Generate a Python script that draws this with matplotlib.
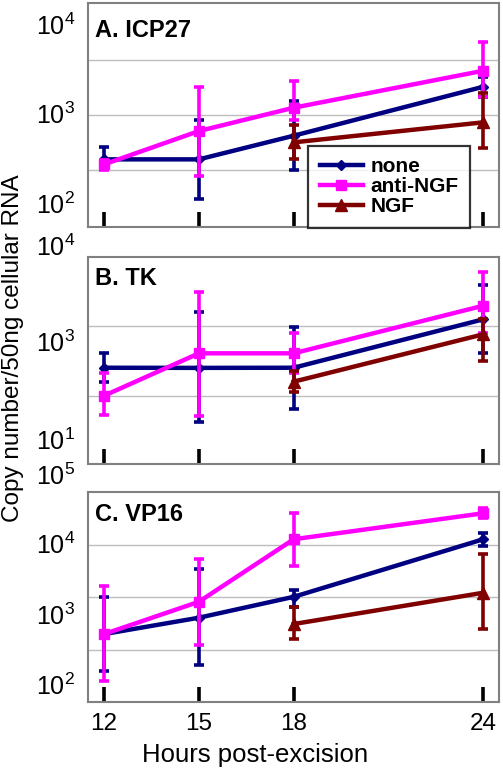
import numpy as np
import matplotlib
matplotlib.use("Agg")
import matplotlib.pyplot as plt
from matplotlib.ticker import FixedLocator, NullFormatter
import matplotlib.transforms as mtransforms

plt.rcParams['font.family'] = ['Liberation Sans', 'DejaVu Sans']
plt.rcParams['mathtext.fontset'] = 'custom'
plt.rcParams['mathtext.rm'] = 'Liberation Sans'

# horas
hours = [12, 15, 18, 24]
hours_ngf = [18, 24]

# A. ICP27
icp27_none = [306, 306, 562, 1980]
icp27_none_lo = [253, 110, 232, 1520]
icp27_none_hi = [424, 841, 1360, 2570]
icp27_anti = [269, 634, 1155, 2990]
icp27_anti_lo = [232, 199, 841, 1530]
icp27_anti_hi = [301, 1950, 2300, 6210]
icp27_ngf = [474, 793]
icp27_ngf_lo = [306, 413]
icp27_ngf_hi = [740, 1670]

# B. TK
tk_none = [285, 283, 285, 2770]
tk_none_lo = [148, 22.5, 40.4, 561]
tk_none_hi = [561, 3960, 1960, 13900]
tk_anti = [76.6, 561, 561, 5250]
tk_anti_lo = [30.9, 29.4, 222, 1460]
tk_anti_hi = [219, 10100, 1440, 25900]
tk_ngf = [148, 1370]
tk_ngf_lo = [90, 391]
tk_ngf_hi = [250, 2800]

# C. VP16
vp16_none = [518, 884, 1750, 11500]
vp16_none_lo = [156, 188, 1270, 9200]
vp16_none_hi = [1750, 4300, 2180, 14000]
vp16_anti = [518, 1490, 11500, 26900]
vp16_anti_lo = [111, 361, 4790, 22800]
vp16_anti_hi = [2490, 5970, 27400, 31600]
vp16_ngf = [719, 2000]
vp16_ngf_lo = [436, 616]
vp16_ngf_hi = [1270, 7100]

titles = ['A. ICP27', 'B. TK', 'C. VP16']
ylims = [(54.1, 16940), (3.09, 52480), (56.1, 54460)]
grid_levels = [[232, 957, 3945], [76.6, 2023], [307, 1754, 9530]]
ytick_vals = [[1e2, 1e3, 1e4], [1e1, 1e3], [1e2, 1e3, 1e4]]
ytick_text = [['2', '3', '4'], ['1', '3'], ['2', '3', '4']]
extra_vals = [None, 8.0e4, 0.9e5]
extra_text = [None, '4', '5']
title_y = [0.932, 0.948, 0.945]

series = [
    [(icp27_none, icp27_none_lo, icp27_none_hi),
     (icp27_anti, icp27_anti_lo, icp27_anti_hi),
     (icp27_ngf, icp27_ngf_lo, icp27_ngf_hi)],
    [(tk_none, tk_none_lo, tk_none_hi),
     (tk_anti, tk_anti_lo, tk_anti_hi),
     (tk_ngf, tk_ngf_lo, tk_ngf_hi)],
    [(vp16_none, vp16_none_lo, vp16_none_hi),
     (vp16_anti, vp16_anti_lo, vp16_anti_hi),
     (vp16_ngf, vp16_ngf_lo, vp16_ngf_hi)],
]
labels = ['none', 'anti-NGF', 'NGF']
colors = ['#000080', '#ff00ff', '#800000']
markers = ['D', 's', '^']
msizes = [5, 7, 8]

fig = plt.figure(figsize=(5.03, 7.73), dpi=100)
positions = [[0.1756, 0.7067, 0.8165, 0.289],
             [0.1756, 0.3997, 0.8165, 0.2682],
             [0.1756, 0.0918, 0.8165, 0.2721]]

for i in range(3):
    ax = fig.add_axes(positions[i])
    ax.set_yscale('log')
    handles = []
    for j in range(3):
        mean, lo, hi = series[i][j]
        x = hours if j < 2 else hours_ngf
        mean = np.array(mean)
        err = [mean - np.array(lo), np.array(hi) - mean]
        cont = ax.errorbar(x, mean, yerr=err, color=colors[j], lw=3.2, marker=markers[j],
                           ms=msizes[j], elinewidth=2.6, capsize=3.5, capthick=2.6,
                           label=labels[j], zorder=3 + j)
        handles.append(cont[0])
    ax.set_xlim(11.5, 24.5)
    ax.set_ylim(*ylims[i])

    # etiquetas del eje y y lineas de la rejilla
    ax.yaxis.set_major_locator(FixedLocator(ytick_vals[i]))
    ax.set_yticklabels([r'$\mathregular{10^{%s}}$' % t for t in ytick_text[i]])
    ax.yaxis.set_minor_locator(FixedLocator(grid_levels[i]))
    ax.yaxis.set_minor_formatter(NullFormatter())
    ax.grid(True, which='minor', axis='y', color='#bdbdbd', lw=1)
    ax.tick_params(axis='y', which='both', length=0, pad=9.5, labelsize=18)
    if extra_vals[i] is not None:
        trans = mtransforms.blended_transform_factory(ax.transAxes, ax.transData)
        ax.text(-0.032, extra_vals[i], r'$\mathregular{10^{%s}}$' % extra_text[i],
                transform=trans, ha='right', va='center', fontsize=18, clip_on=False)

    ax.set_xticks(hours)
    ax.tick_params(axis='x', direction='in', length=11, width=2.6, color='black',
                   labelsize=17.5, pad=8)
    if i < 2:
        ax.tick_params(axis='x', labelbottom=False)

    for s in ax.spines.values():
        s.set_color('#808080')
        s.set_linewidth(1.5)

    ax.text(0.016, title_y[i], titles[i], transform=ax.transAxes, fontsize=17,
            fontweight='bold', va='top', ha='left')

    if i == 0:
        leg = ax.legend(handles, labels, loc='lower left', bbox_to_anchor=(0.535, -0.005),
                        borderaxespad=0, frameon=True, fancybox=False,
                        edgecolor='black', handlelength=2.1, handletextpad=0.35,
                        labelspacing=0.05, borderpad=0.55,
                        prop={'weight': 'bold', 'size': 15})
        leg.get_frame().set_linewidth(1.6)
        leg.set_zorder(10)

fig.text(255 / 503, 1 - 755 / 773, 'Hours post-excision', ha='center', va='center',
         fontsize=18.5)
fig.text(13 / 503, 1 - 348 / 773, 'Copy number/50ng cellular RNA', rotation=90,
         ha='center', va='center', fontsize=17.5)

plt.savefig('out.png', dpi=100)
